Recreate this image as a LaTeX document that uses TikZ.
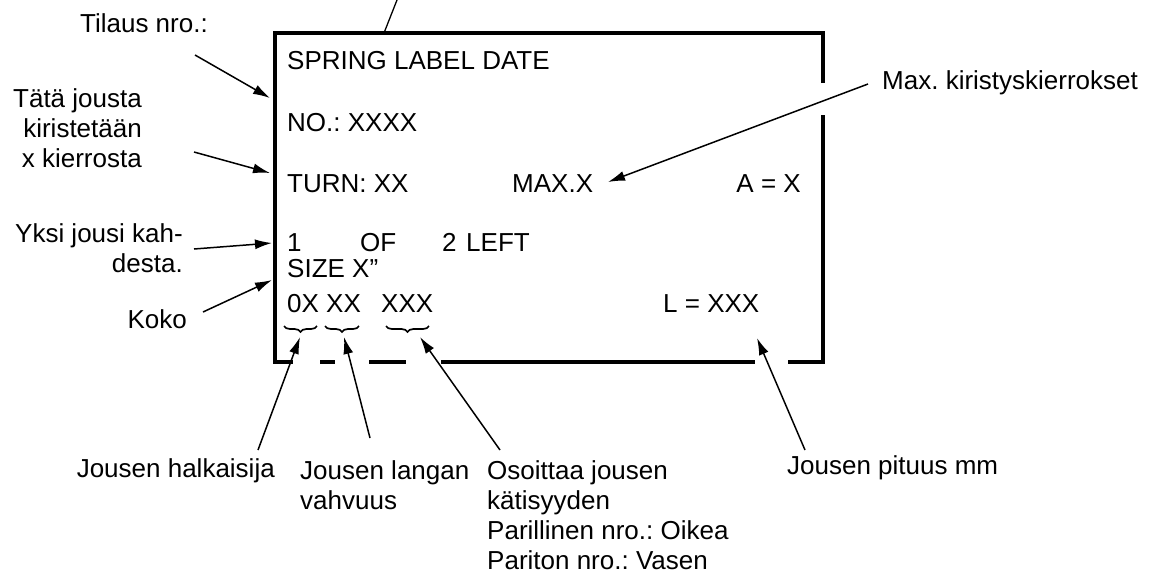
\documentclass[tikz,border=0pt]{standalone}
\usepackage{fontspec}
\setmainfont{Liberation Sans}
\usetikzlibrary{arrows.meta,decorations.pathreplacing}
\begin{document}
\frenchspacing
\begin{tikzpicture}[x=1pt,y=-1pt,
  lbl/.style={font=\fontsize{26}{30}\selectfont, inner sep=0pt},
  txt/.style={font=\fontsize{26}{30}\selectfont, inner sep=0pt, anchor=base west},
  arr/.style={line width=1.5pt, -{Latex[length=17pt,width=10pt]}},
  border/.style={line width=3.5pt},
  brc/.style={decorate, decoration={brace,mirror,amplitude=6pt}, line width=1.7pt}]
\useasboundingbox (0,0) rectangle (1152,574);

% box border with gaps
\draw[border] (823,83) -- (823,33) -- (275,33) -- (275,362) -- (293,362);
\draw[border] (788,362) -- (823,362) -- (823,115);
\draw[border] (441,362) -- (755,362);
\draw[border] (369,362) -- (406,362);
\draw[border] (320,362) -- (335,362);

% line leaving the top
\coordinate (topA) at (397,0);
\coordinate (topB) at (384,33);
\draw[line width=1.3pt] (topA) -- (topB);

% texts inside the label
\node[txt] (t1) at (287,69) {SPRING LABEL DATE};
\node[txt] (t2) at (287,131) {NO.: XXXX};
\node[txt] (t3) at (287,192) {TURN: XX};
\node[txt] (t4) at (512,192) {MAX.X};
\node[txt,anchor=base east] (t5) at (801,192) {A = X};
\node[txt] (t6a) at (287,251) {1};
\node[txt] (t6b) at (360,251) {OF};
\node[txt] (t6c) at (442,251) {2};
\node[txt] (t6d) at (466,251) {LEFT};
\node[txt] (t7) at (287,277) {SIZE X”};
\node[txt] (t8a) at (287,312) {0X XX};
\node[txt] (t8c) at (381,312) {XXX};
\node[txt] (t9) at (663,312) {L = XXX};

% braces
\coordinate (b1a) at (284,326); \coordinate (b1b) at (317,326);
\coordinate (b2a) at (325,326); \coordinate (b2b) at (359,326);
\coordinate (b3a) at (386,326); \coordinate (b3b) at (429,326);
\draw[brc] (b1a) -- (b1b);
\draw[brc] (b2a) -- (b2b);
\draw[brc] (b3a) -- (b3b);

% left labels
\node[lbl,anchor=base east] (l1) at (208,32) {Tilaus nro.:};
\node[lbl,anchor=base east] (l2a) at (142,107) {Tätä jousta};
\node[lbl,anchor=base east] (l2b) at (142,137) {kiristetään};
\node[lbl,anchor=base east] (l2c) at (142,167) {x kierrosta};
\node[lbl,anchor=base east] (l3a) at (183,242) {Yksi jousi kah-};
\node[lbl,anchor=base east] (l3b) at (183,272) {desta.};
\node[lbl,anchor=base east] (l4) at (187,328) {Koko};
\node[lbl,anchor=base west] (l5) at (882,89) {Max. kiristyskierrokset};

% bottom labels
\node[lbl,anchor=base east] (m1) at (275,477) {Jousen halkaisija};
\node[lbl,anchor=base west] (m2a) at (300,479) {Jousen langan};
\node[lbl,anchor=base west] (m2b) at (300,509) {vahvuus};
\node[lbl,anchor=base west] (m3a) at (487,479) {Osoittaa jousen};
\node[lbl,anchor=base west] (m3b) at (487,509) {kätisyyden};
\node[lbl,anchor=base west] (m3c) at (487,539) {Parillinen nro.: Oikea};
\node[lbl,anchor=base west] (m3d) at (487,569) {Pariton nro.: Vasen};
\node[lbl,anchor=base west] (m4) at (787,474) {Jousen pituus mm};

% arrow end points
\coordinate (a1s) at (195,55);  \coordinate (a1e) at (270,98);
\coordinate (a2s) at (194,152); \coordinate (a2e) at (270,173);
\coordinate (a3s) at (194,249); \coordinate (a3e) at (272,243);
\coordinate (a4s) at (203,312); \coordinate (a4e) at (272,280);
\coordinate (a5s) at (868,84);  \coordinate (a5e) at (608,182);
\coordinate (a6s) at (258,450); \coordinate (a6e) at (300,337);
\coordinate (a7s) at (370,438); \coordinate (a7e) at (344,337);
\coordinate (a8s) at (500,450); \coordinate (a8e) at (420,337);
\coordinate (a9s) at (805,450); \coordinate (a9e) at (757,338);

\foreach \i in {1,...,9} { \draw[arr] (a\i s) -- (a\i e); }
\end{tikzpicture}
\end{document}
